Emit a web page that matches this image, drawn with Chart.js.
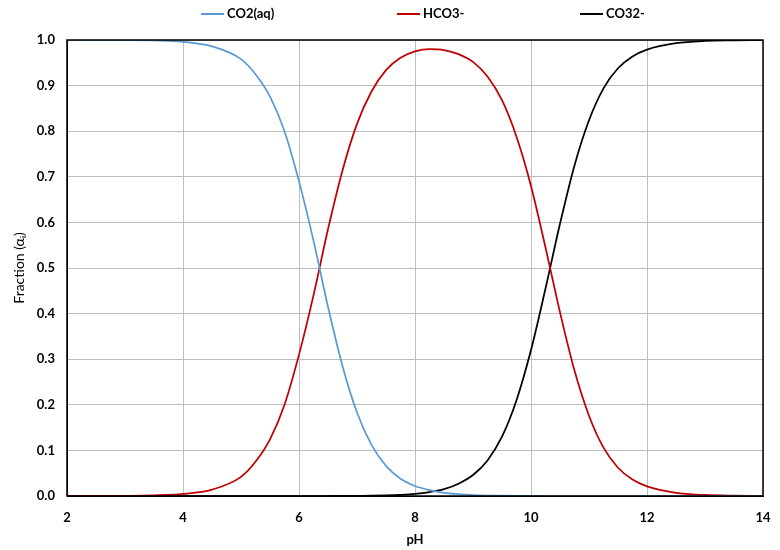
<!DOCTYPE html>
<html>
<head>
<meta charset="utf-8">
<script src="https://cdn.jsdelivr.net/npm/chart.js@4"></script>
<style>
  html, body { margin: 0; padding: 0; background: #fff; }
  #wrap { position: relative; width: 780px; height: 550px; }
  .leg { position: absolute; top: 5px; height: 16px; font: bold 13px Lato, "Open Sans", sans-serif;
         color: #000; line-height: 16px; white-space: nowrap; }
  .leg i { display: inline-block; width: 23px; height: 2px; vertical-align: middle; margin-right: 3px;
           position: relative; top: -1px; }
</style>
</head>
<body>
<div id="wrap">
  <canvas id="chart" width="780" height="550"></canvas>
  <div id="legend"></div>
</div>
<script>
// pH values the curves were read at
const pH = [2, 2.5, 3, 3.5, 4, 4.5, 5, 5.25, 5.5, 5.75, 6, 6.25, 6.5, 6.75, 7, 7.25, 7.5, 7.75,
            8, 8.25, 8.5, 8.75, 9, 9.25, 9.5, 9.75, 10, 10.25, 10.5, 10.75, 11, 11.25, 11.5, 11.75,
            12, 12.5, 13, 13.5, 14];

const co2aq = [1.0, 1.0, 1.0, 0.999, 0.996, 0.986, 0.958, 0.925, 0.876, 0.80, 0.69, 0.56, 0.415, 0.285, 0.183, 0.112, 0.066, 0.038,
               0.022, 0.013, 0.007, 0.004, 0.002, 0.001, 0.0006, 0.0003, 0.0001, 0, 0, 0, 0, 0, 0, 0,
               0, 0, 0, 0, 0];

const hco3 = [0, 0.0001, 0.0004, 0.0014, 0.0045, 0.014, 0.042, 0.075, 0.124, 0.20, 0.31, 0.44, 0.585, 0.714, 0.816, 0.887, 0.934, 0.961,
              0.975, 0.980, 0.978, 0.969, 0.952, 0.920, 0.868, 0.788, 0.68, 0.545, 0.403, 0.275, 0.176, 0.106, 0.062, 0.036,
              0.021, 0.0068, 0.0022, 0.0007, 0.0002];

const co32 = [0, 0, 0, 0, 0, 0, 0, 0, 0, 0, 0, 0, 0, 0.0001, 0.0004, 0.0006, 0.0013, 0.0025,
              0.0045, 0.0085, 0.015, 0.027, 0.046, 0.078, 0.13, 0.21, 0.32, 0.455, 0.597, 0.725, 0.824, 0.894, 0.938, 0.964,
              0.979, 0.993, 0.998, 0.9993, 0.9998];

const xTicks = [2, 4, 6, 8, 10, 12, 14];

const series = [
  { label: 'CO2(aq)', values: co2aq, color: '#5B9BD5', left: 201 },
  { label: 'HCO3-', values: hco3, color: '#C00000', left: 397 },
  { label: 'CO32-', values: co32, color: '#000000', left: 580 }
];

const pts = ys => pH.map((x, i) => ({ x: x, y: ys[i] }));

// legend along the top, items at the spacing of the original
const legendEl = document.getElementById('legend');
series.forEach(s => {
  const d = document.createElement('div');
  d.className = 'leg';
  d.style.left = s.left + 'px';
  d.innerHTML = '<i style="background:' + s.color + '"></i>' + s.label;
  legendEl.appendChild(d);
});

// black frame round the plot area
const frame = {
  id: 'frame',
  afterDraw(chart) {
    const { ctx, chartArea: a } = chart;
    ctx.save();
    ctx.strokeStyle = '#000';
    ctx.lineWidth = 1.5;
    ctx.strokeRect(a.left, a.top, a.right - a.left, a.bottom - a.top);
    ctx.restore();
  }
};

const font = { family: 'Lato, "Open Sans", sans-serif', weight: 'bold', size: 13 };

new Chart(document.getElementById('chart'), {
  type: 'line',
  data: {
    datasets: series.map(s => ({
      label: s.label, data: pts(s.values), borderColor: s.color, backgroundColor: s.color
    }))
  },
  options: {
    responsive: false,
    animation: false,
    layout: { padding: { left: 0, right: 17, top: 40, bottom: 0 } },
    elements: {
      point: { radius: 0 },
      line: { borderWidth: 1.75, cubicInterpolationMode: 'monotone' }
    },
    plugins: {
      tooltip: { enabled: false },
      legend: { display: false }
    },
    scales: {
      x: {
        type: 'linear', min: 2, max: 14,
        afterBuildTicks: s => { s.ticks = xTicks.map(v => ({ value: v })); },
        afterFit: s => { s.height = 54; s.paddingLeft = 10; s.paddingRight = 10; },
        grid: { color: '#BEBEBE', drawTicks: false },
        border: { color: '#000' },
        ticks: { font: font, color: '#000', padding: 14, maxRotation: 0, minRotation: 0, autoSkip: false },
        title: { display: true, text: 'pH', font: font, color: '#000', padding: { top: 0, bottom: 2 } }
      },
      y: {
        min: 0, max: 1,
        afterFit: s => { s.width = 67; },
        grid: { color: '#BEBEBE', drawTicks: false },
        border: { color: '#000' },
        ticks: { stepSize: 0.1, font: font, color: '#000', padding: 12, callback: v => v.toFixed(1) },
        title: {
          display: true, text: 'Fraction (\u03b1\u1d62)', color: '#000',
          font: { family: 'Lato, "Open Sans", sans-serif', size: 14 },
          padding: { top: 11, bottom: 0 }
        }
      }
    }
  },
  plugins: [frame]
});
</script>
</body>
</html>
